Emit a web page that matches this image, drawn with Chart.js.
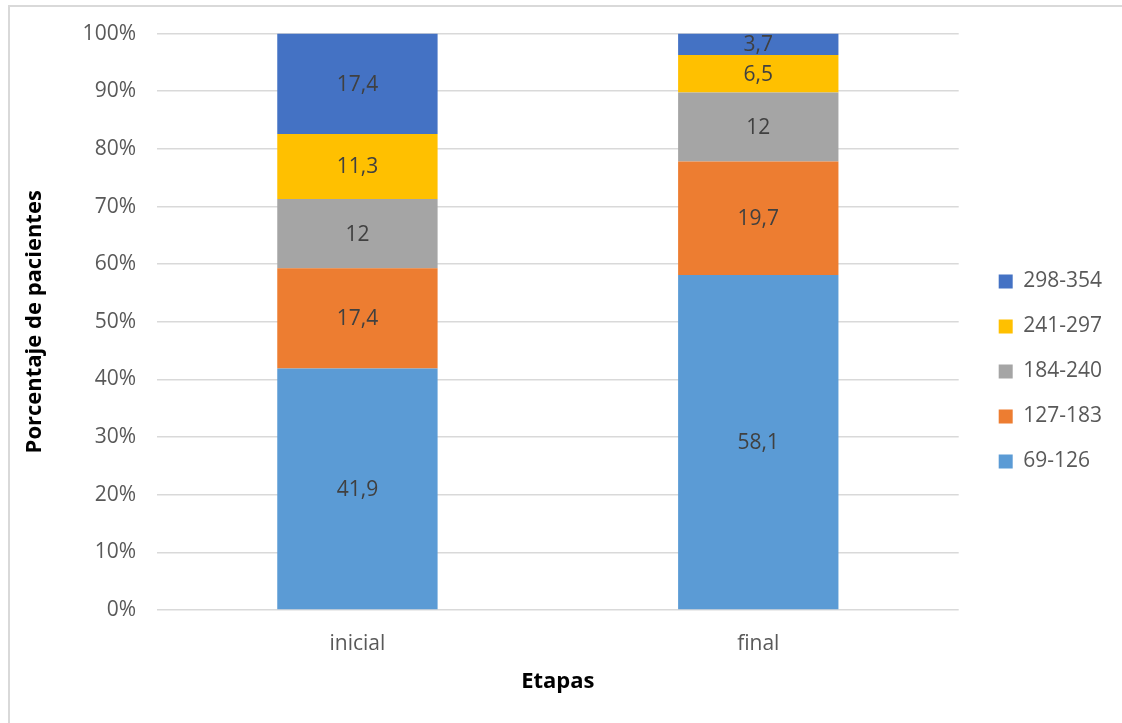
<!DOCTYPE html>
<html lang="es">
<head>
<meta charset="utf-8">
<title>Porcentaje de pacientes por etapa</title>
<script src="https://cdn.jsdelivr.net/npm/chart.js@4/dist/chart.umd.min.js"></script>
<style>
  html, body { margin: 0; padding: 0; background: #fff; overflow: hidden; }
  #frame {
    position: absolute; left: 8px; top: 5px; width: 1300px; height: 900px;
    border-left: 2px solid #d9d9d9; border-top: 2px solid #d9d9d9;
  }
  #chart { position: absolute; left: 0; top: 0; }
</style>
</head>
<body>
<div id="frame"></div>
<canvas id="chart" width="1122" height="723"></canvas>
<script>
// etapas y rangos
const etapas = ['inicial', 'final'];
const rangos = ['69-126', '127-183', '184-240', '241-297', '298-354'];
const colores = ['#5B9BD5', '#ED7D31', '#A5A5A5', '#FFC000', '#4472C4'];

// porcentaje de pacientes por rango, [inicial, final]
const r69_126 = [41.9, 58.1];
const r127_183 = [17.4, 19.7];
const r184_240 = [12, 12];
const r241_297 = [11.3, 6.5];
const r298_354 = [17.4, 3.7];
const series = [r69_126, r127_183, r184_240, r241_297, r298_354];

const yTicks = [0, 10, 20, 30, 40, 50, 60, 70, 80, 90, 100];

const FONT = '"Open Sans", "DejaVu Sans", sans-serif';
const GRID = '#d9d9d9';
const TEXT = '#595959';

function fmt(v) {
  return String(v).replace('.', ',');
}

// escribe el valor en el centro de cada segmento
const valueLabels = {
  id: 'valueLabels',
  afterDatasetsDraw(chart) {
    const ctx = chart.ctx;
    ctx.save();
    ctx.font = '21px ' + FONT;
    ctx.fillStyle = '#404040';
    ctx.textAlign = 'center';
    ctx.textBaseline = 'middle';
    chart.data.datasets.forEach((ds, i) => {
      const meta = chart.getDatasetMeta(i);
      meta.data.forEach((bar, j) => {
        const y = (bar.y + bar.base) / 2;
        ctx.fillText(fmt(ds.data[j]), bar.x, y + 1);
      });
    });
    ctx.restore();
  },
};

// separa la leyenda del área de barras
const legendOffset = {
  id: 'legendOffset',
  afterLayout(chart) {
    const lg = chart.legend;
    if (!lg) return;
    lg.left += 16;
    lg.right += 16;
  },
};

new Chart(document.getElementById('chart'), {
  type: 'bar',
  data: {
    labels: etapas,
    datasets: rangos.map((r, i) => ({
      label: r,
      data: series[i],
      backgroundColor: colores[i],
      borderWidth: 0,
      barPercentage: 0.4,
      categoryPercentage: 1,
    })),
  },
  options: {
    responsive: false,
    animation: false,
    layout: { padding: { left: 22, top: 30, right: 26, bottom: 10 } },
    plugins: {
      legend: {
        position: 'right',
        reverse: true,
        labels: {
          font: { family: FONT, size: 21 },
          color: TEXT,
          boxWidth: 14,
          boxHeight: 14,
          padding: 24,
        },
      },
      tooltip: { enabled: false },
    },
    scales: {
      x: {
        stacked: true,
        grid: { display: false, drawTicks: false },
        border: { display: false },
        ticks: { color: TEXT, font: { family: FONT, size: 21 }, padding: 21 },
        title: {
          display: true,
          text: 'Etapas',
          color: '#000',
          font: { family: FONT, size: 22, weight: 'bold' },
          padding: { top: 0, bottom: 18 },
        },
        afterFit(scale) { scale.height = 103; },
      },
      y: {
        stacked: true,
        min: 0,
        max: 100,
        afterBuildTicks(scale) { scale.ticks = yTicks.map((v) => ({ value: v })); },
        grid: { color: GRID, lineWidth: 1.5, drawTicks: false },
        border: { display: false },
        ticks: {
          color: TEXT,
          font: { family: FONT, size: 21 },
          padding: 21,
          callback: (v) => v + '%',
        },
        title: {
          display: true,
          text: 'Porcentaje de pacientes',
          color: '#000',
          font: { family: FONT, size: 22, weight: 'bold' },
          padding: { top: 0, bottom: 0 },
        },
        afterFit(scale) { scale.width = 135; },
      },
    },
  },
  plugins: [valueLabels, legendOffset],
});
</script>
</body>
</html>
